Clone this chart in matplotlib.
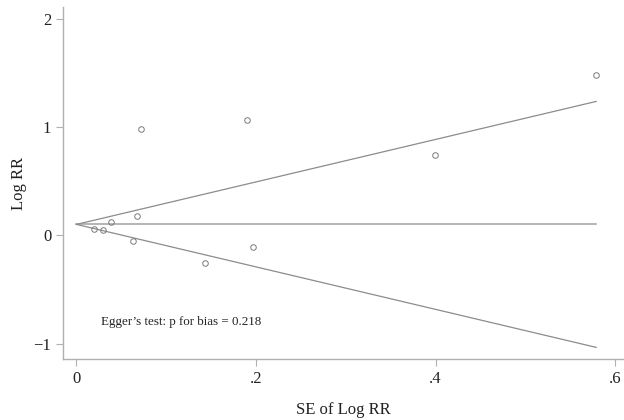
import numpy as np
from matplotlib import pyplot as plt

# study estimates
se_log_rr = [0.019, 0.029, 0.038, 0.063, 0.067, 0.072, 0.143, 0.190, 0.197, 0.399, 0.579]
log_rr = [0.055, 0.046, 0.12, -0.053, 0.18, 0.985, -0.26, 1.065, -0.11, 0.74, 1.475]

pooled = 0.1
z = 1.96
x_ticks = [0, 0.2, 0.4, 0.6]
x_labels = ["0", ".2", ".4", ".6"]
y_ticks = [-1, 0, 1, 2]
y_labels = ["\u22121", "0", "1", "2"]
note = "Egger\u2019s test: p for bias = 0.218"

plt.rcParams["font.family"] = ["Liberation Serif", "DejaVu Serif"]

fig = plt.figure(figsize=(6.24, 4.2), dpi=100)
ax = fig.add_axes([0.101, 0.1445, 0.899, 0.8385])

grey = "#8c8c8c"
se_line = np.array([0, max(se_log_rr)])
ax.plot(se_line, [pooled, pooled], color="#a0a0a0", lw=1.1)
ax.plot(se_line, pooled + z * se_line, color=grey, lw=0.9)
ax.plot(se_line, pooled - z * se_line, color=grey, lw=0.9)

ax.plot(se_log_rr, log_rr, linestyle="none", marker="o", ms=4,
        mfc="none", mec="#7a7a7a", mew=0.7)

ax.text(0.027, -0.80, note, fontsize=9.4, va="center", ha="left", color="#222222")

ax.set_xlim(-0.015, 0.61)
ax.set_ylim(-1.145, 2.105)
ax.set_xticks(x_ticks, x_labels)
ax.set_yticks(y_ticks, y_labels)

for side in ["top", "right"]:
    ax.spines[side].set_visible(False)
for side in ["left", "bottom"]:
    ax.spines[side].set_color("#b0b0b0")
    ax.spines[side].set_linewidth(1.0)
ax.tick_params(colors="#b0b0b0", labelcolor="#222222", labelsize=12, length=5, width=0.8)

ax.set_xlabel("SE of Log RR", fontsize=12, color="#222222", labelpad=11)
ax.set_ylabel("Log RR", fontsize=12, color="#222222", labelpad=5)

fig.savefig("out.png", dpi=100)
